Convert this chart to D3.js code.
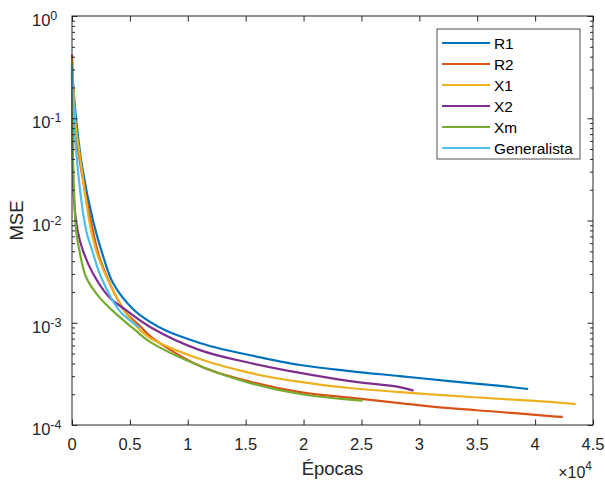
<!DOCTYPE html>
<html>
<head>
<meta charset="utf-8">
<script src="https://cdn.jsdelivr.net/npm/d3@7"></script>
<style>
  body { margin: 0; background: #fff; }
  svg { font-family: "Liberation Sans", Arial, Helvetica, sans-serif; }
</style>
</head>
<body>
<svg width="605" height="482"></svg>
<script>
// series names and colours (MATLAB default order)
const names = ["R1", "R2", "X1", "X2", "Xm", "Generalista"];
const colors = ["#0072BD", "#D95319", "#EDB120", "#7E2F8E", "#77AC30", "#4DBEEE"];

// epochs / mse
const epR1 = [0, 389, 924, 1814, 2764, 3541, 5355, 6740, 8200, 10020, 11900, 14500, 19700, 24000, 28300, 32600, 37000, 39400];
const mseR1 = [0.30, 0.09, 0.031, 0.01, 0.0042, 0.00245, 0.00133, 0.00102, 0.00083, 0.000693, 0.000593, 0.000506, 0.000386, 0.000337, 0.000301, 0.000269, 0.000241, 0.000225];

const epR2 = [0, 260, 520, 1790, 2420, 4490, 5870, 6740, 11050, 15400, 19700, 24000, 28300, 32600, 37000, 41300, 42400];
const mseR2 = [0.42, 0.09, 0.049, 0.0081, 0.0042, 0.00133, 0.00093, 0.00074, 0.000378, 0.000265, 0.00021, 0.000185, 0.000164, 0.000146, 0.000134, 0.000122, 0.00012];

const epX1 = [0, 302, 605, 1640, 2330, 4490, 5870, 6740, 11050, 15400, 19700, 24000, 28300, 32600, 37000, 41300, 43500];
const mseX1 = [0.37, 0.09, 0.049, 0.0081, 0.0042, 0.00133, 0.00085, 0.00071, 0.000442, 0.000323, 0.000264, 0.00023, 0.00021, 0.000194, 0.00018, 0.000168, 0.00016];

const epX2 = [0, 60, 173, 475, 924, 1790, 3200, 4660, 6740, 11050, 15400, 19700, 24000, 28300, 29500];
const mseX2 = [0.30, 0.049, 0.0159, 0.0081, 0.00515, 0.00307, 0.00179, 0.00133, 0.00091, 0.00054, 0.000404, 0.000323, 0.000269, 0.000235, 0.000217];

const epXm = [0, 60, 173, 345, 630, 1210, 2330, 3455, 5440, 6740, 11050, 15400, 19700, 24000, 25100];
const mseXm = [0.35, 0.049, 0.0199, 0.0081, 0.00515, 0.0028, 0.00179, 0.00133, 0.00085, 0.00065, 0.000378, 0.000257, 0.000201, 0.000177, 0.000173];

const epGen = [0, 216, 345, 1210, 1730, 2505, 4060, 5870];
const mseGen = [0.33, 0.09, 0.049, 0.0081, 0.00515, 0.0028, 0.00133, 0.00089];

const xTicks = [0, 5000, 10000, 15000, 20000, 25000, 30000, 35000, 40000, 45000];
const xTickLabels = ["0", "0.5", "1", "1.5", "2", "2.5", "3", "3.5", "4", "4.5"];
const yTicks = [1e-4, 1e-3, 1e-2, 1e-1, 1];
const yTickExp = ["-4", "-3", "-2", "-1", "0"];

const series = [
  [epR1, mseR1], [epR2, mseR2], [epX1, mseX1],
  [epX2, mseX2], [epXm, mseXm], [epGen, mseGen]
];

const pLeft = 72, pRight = 593, pTop = 16, pBottom = 425;
const axisColor = "#262626";

const svg = d3.select("svg");

const x = d3.scaleLinear().domain([0, 45000]).range([pLeft, pRight]);
const y = d3.scaleLog().domain([1e-4, 1]).range([pBottom, pTop]);

// minor log ticks
const minor = [];
for (let e = -4; e < 0; e++) {
  for (let k = 2; k <= 9; k++) minor.push(k * Math.pow(10, e));
}

// curves
const line = d3.line()
  .x(d => x(d[0]))
  .y(d => y(d[1]))
  .curve(d3.curveCatmullRom.alpha(0.5));

const plot = svg.append("g");
series.forEach((s, i) => {
  const pts = s[0].map((e, j) => [e, s[1][j]]);
  plot.append("path")
    .attr("d", line(pts))
    .attr("fill", "none")
    .attr("stroke", colors[i])
    .attr("stroke-width", 2.2)
    .attr("stroke-linejoin", "round");
});

// ticks, all pointing inward
function tickGroup(axis, transform) {
  const g = svg.append("g").attr("transform", transform).call(axis);
  g.select(".domain").remove();
  g.selectAll("line").attr("stroke", axisColor).attr("stroke-width", 1);
  g.selectAll("text").remove();
}
tickGroup(d3.axisBottom(x).tickValues(xTicks).tickSize(-5.5), `translate(0,${pBottom})`);
tickGroup(d3.axisTop(x).tickValues(xTicks).tickSize(-5.5), `translate(0,${pTop})`);
tickGroup(d3.axisLeft(y).tickValues(yTicks).tickSize(-5.5), `translate(${pLeft},0)`);
tickGroup(d3.axisRight(y).tickValues(yTicks).tickSize(-5.5), `translate(${pRight},0)`);
tickGroup(d3.axisLeft(y).tickValues(minor).tickSize(-3), `translate(${pLeft},0)`);
tickGroup(d3.axisRight(y).tickValues(minor).tickSize(-3), `translate(${pRight},0)`);

// box
svg.append("rect")
  .attr("x", pLeft).attr("y", pTop)
  .attr("width", pRight - pLeft).attr("height", pBottom - pTop)
  .attr("fill", "none").attr("stroke", axisColor).attr("stroke-width", 1);

// x tick labels
svg.append("g").selectAll("text")
  .data(xTicks)
  .join("text")
  .attr("x", d => x(d))
  .attr("y", 450)
  .attr("text-anchor", "middle")
  .attr("font-size", 16.5)
  .attr("fill", axisColor)
  .text((d, i) => xTickLabels[i]);

// y tick labels 10^n
const yl = svg.append("g").selectAll("text")
  .data(yTicks)
  .join("text")
  .attr("x", 32)
  .attr("y", d => y(d) + 10)
  .attr("font-size", 16.5)
  .attr("fill", axisColor);
yl.append("tspan").text("10");
yl.append("tspan")
  .attr("font-size", 12.5)
  .attr("dy", -6)
  .text((d, i) => yTickExp[i]);

// exponent for x axis
const ex = svg.append("text")
  .attr("x", 592).attr("y", 478)
  .attr("text-anchor", "end")
  .attr("font-size", 16)
  .attr("fill", axisColor);
ex.append("tspan").text("×10");
ex.append("tspan").attr("font-size", 12).attr("dy", -8).text("4");

// axis labels
svg.append("text")
  .attr("x", (pLeft + pRight) / 2).attr("y", 475)
  .attr("text-anchor", "middle")
  .attr("font-size", 18.5)
  .attr("fill", axisColor)
  .text("Épocas");

svg.append("text")
  .attr("transform", `translate(23,${(pTop + pBottom) / 2}) rotate(-90)`)
  .attr("text-anchor", "middle")
  .attr("font-size", 18.5)
  .attr("fill", axisColor)
  .text("MSE");

// legend
const lg = svg.append("g");
lg.append("rect")
  .attr("x", 437).attr("y", 29)
  .attr("width", 143).attr("height", 130)
  .attr("fill", "#fff").attr("stroke", axisColor).attr("stroke-width", 0.8);
const row = d3.scalePoint().domain(names).range([43, 148]);
names.forEach((n, i) => {
  lg.append("line")
    .attr("x1", 442).attr("x2", 490)
    .attr("y1", row(n)).attr("y2", row(n))
    .attr("stroke", colors[i]).attr("stroke-width", 2.2);
  lg.append("text")
    .attr("x", 494).attr("y", row(n) + 5.5)
    .attr("font-size", 15.4)
    .attr("fill", "#000")
    .text(n);
});
</script>
</body>
</html>
